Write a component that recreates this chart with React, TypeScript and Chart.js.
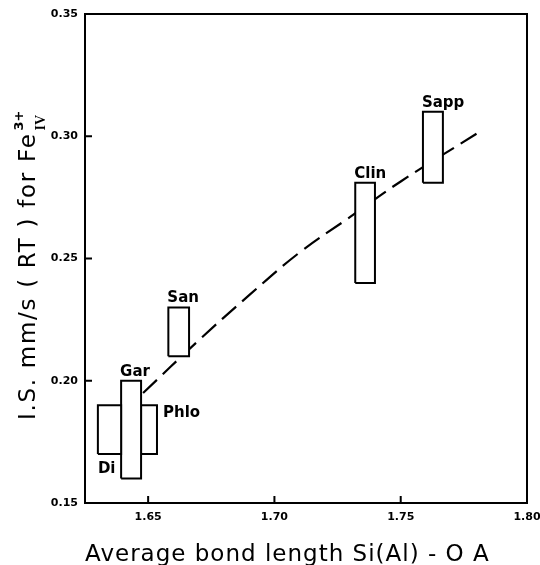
import React, { useEffect, useRef } from 'react';
import { Chart, registerables } from 'chart.js';

Chart.register(...registerables);

// ---- data ----
const boxNames = ['Di', 'Gar', 'Phlo', 'San', 'Clin', 'Sapp'];
const boxXMin = [1.6301, 1.6393, 1.6472, 1.658, 1.732, 1.7588];
const boxXMax = [1.6393, 1.6472, 1.6535, 1.6662, 1.7398, 1.7667];
const boxYMin = [0.17, 0.16, 0.17, 0.21, 0.24, 0.281];
const boxYMax = [0.19, 0.2, 0.19, 0.23, 0.281, 0.31];
const labelPlacement = ['below', 'above', 'right', 'above', 'above', 'above'];

const curveX = [1.648, 1.67, 1.69, 1.71, 1.73, 1.75, 1.78];
const curveY = [0.195, 0.2165, 0.235, 0.2525, 0.267, 0.2815, 0.301];

const xTickValues = [1.65, 1.7, 1.75, 1.8];
const yTickValues = [0.15, 0.2, 0.25, 0.3, 0.35];
const X_MIN = 1.625;
const X_MAX = 1.8;
const Y_MIN = 0.15;
const Y_MAX = 0.35;

const xTitle = 'Average bond length Si(Al) - O A';
const yTitleMain = 'I.S. mm/s ( RT ) for Fe';
const yTitleSup = '3+';
const yTitleSub = 'IV';

const framePlugin = {
  id: 'frameAndLabels',
  afterDatasetsDraw(chart: any) {
    const { ctx, chartArea: a, scales } = chart;
    const x = scales.x;
    const y = scales.y;
    ctx.save();
    ctx.strokeStyle = '#000';
    ctx.lineWidth = 2;
    ctx.setLineDash([]);
    ctx.strokeRect(a.left, a.top, a.right - a.left, a.bottom - a.top);
    ctx.beginPath();
    for (const v of xTickValues) {
      const px = x.getPixelForValue(v);
      if (px <= a.left + 1 || px >= a.right - 1) continue;
      ctx.moveTo(px, a.bottom);
      ctx.lineTo(px, a.bottom - 7);
    }
    for (const v of yTickValues) {
      const py = y.getPixelForValue(v);
      if (py <= a.top + 1 || py >= a.bottom - 1) continue;
      ctx.moveTo(a.left, py);
      ctx.lineTo(a.left + 7, py);
    }
    ctx.stroke();

    ctx.font = 'bold 15px "DejaVu Sans"';
    ctx.fillStyle = '#000';
    ctx.textAlign = 'left';
    ctx.textBaseline = 'alphabetic';
    boxNames.forEach((name, i) => {
      const left = x.getPixelForValue(boxXMin[i]);
      const right = x.getPixelForValue(boxXMax[i]);
      const top = y.getPixelForValue(boxYMax[i]);
      const bottom = y.getPixelForValue(boxYMin[i]);
      const p = labelPlacement[i];
      if (p === 'below') ctx.fillText(name, left, bottom + 19);
      else if (p === 'right') ctx.fillText(name, right + 6, top + 12);
      else ctx.fillText(name, left - 1, top - 5);
    });
    ctx.restore();
  },
  afterDraw(chart: any) {
    const { ctx, chartArea: a } = chart;
    ctx.save();
    ctx.fillStyle = '#000';
    ctx.textAlign = 'left';
    ctx.textBaseline = 'alphabetic';
    // x title
    ctx.font = '23px "DejaVu Sans"';
    (ctx as any).letterSpacing = '1px';
    ctx.fillText(xTitle, a.left, 561);
    // y title
    ctx.translate(35, 420);
    ctx.rotate(-Math.PI / 2);
    (ctx as any).letterSpacing = '1.7px';
    ctx.font = '23px "DejaVu Sans"';
    ctx.fillText(yTitleMain, 0, 0);
    const w = ctx.measureText(yTitleMain).width;
    (ctx as any).letterSpacing = '0px';
    ctx.font = 'bold 13px "DejaVu Sans"';
    ctx.fillText(yTitleSup, w + 2, -12);
    ctx.font = 'bold 14px "Liberation Serif"';
    ctx.fillText(yTitleSub, w + 2, 10);
    ctx.restore();
  },
};

export default function App() {
  const ref = useRef<HTMLCanvasElement>(null);
  useEffect(() => {
    if (!ref.current) return;
    const tickFont = { family: '"DejaVu Sans"', size: 11, weight: 'bold' as const };
    const boxDatasets = boxNames.map((name, i) => ({
      label: name,
      data: [
        { x: boxXMin[i], y: boxYMin[i] },
        { x: boxXMin[i], y: boxYMax[i] },
        { x: boxXMax[i], y: boxYMax[i] },
        { x: boxXMax[i], y: boxYMin[i] },
        { x: boxXMin[i], y: boxYMin[i] },
      ],
      borderColor: '#000',
      backgroundColor: '#fff',
      borderWidth: 2,
      borderJoinStyle: 'miter' as const,
      pointRadius: 0,
      tension: 0,
      fill: 'shape' as const,
      order: 0,
    }));
    const chart = new Chart(ref.current, {
      type: 'line',
      data: {
        datasets: [
          ...boxDatasets,
          {
            label: 'trend',
            data: curveX.map((cx, i) => ({ x: cx, y: curveY[i] })),
            borderColor: '#000',
            borderWidth: 2.2,
            borderDash: [19, 8],
            pointRadius: 0,
            tension: 0.4,
            fill: false,
            order: 10,
          } as any,
        ],
      },
      options: {
        animation: false,
        responsive: false,
        layout: { autoPadding: false, padding: { left: 0, right: 13, top: 14, bottom: 0 } },
        plugins: { legend: { display: false }, tooltip: { enabled: false } },
        scales: {
          x: {
            type: 'linear',
            min: X_MIN,
            max: X_MAX,
            afterBuildTicks: (s: any) => {
              s.ticks = xTickValues.map((v) => ({ value: v }));
            },
            afterFit: (s: any) => {
              s.height = 62;
              s.paddingLeft = 0;
              s.paddingRight = 0;
            },
            ticks: {
              callback: (v: any) => Number(v).toFixed(2),
              font: tickFont,
              color: '#000',
              padding: 8,
              maxRotation: 0,
              autoSkip: false,
            },
            grid: { display: false, drawTicks: false },
            border: { display: false },
          },
          y: {
            type: 'linear',
            min: Y_MIN,
            max: Y_MAX,
            afterBuildTicks: (s: any) => {
              s.ticks = yTickValues.map((v) => ({ value: v }));
            },
            afterFit: (s: any) => {
              s.width = 85;
              s.paddingTop = 0;
              s.paddingBottom = 0;
            },
            ticks: {
              callback: (v: any) => Number(v).toFixed(2),
              font: tickFont,
              color: '#000',
              padding: 7,
              autoSkip: false,
            },
            grid: { display: false, drawTicks: false },
            border: { display: false },
          },
        },
      },
      plugins: [framePlugin],
    });
    return () => chart.destroy();
  }, []);
  return (
    <div style={{ position: 'absolute', left: 0, top: 0, width: 540, height: 565, background: '#fff' }}>
      <canvas ref={ref} width={540} height={565} style={{ display: 'block' }} />
    </div>
  );
}
